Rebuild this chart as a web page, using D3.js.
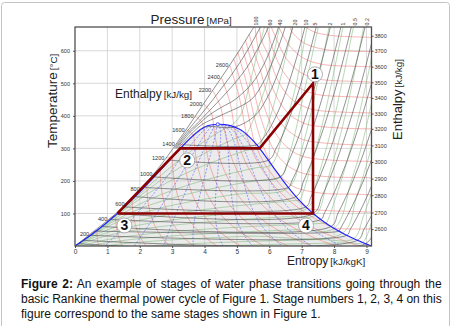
<!DOCTYPE html>
<html>
<head>
<meta charset="utf-8">
<script src="https://cdn.jsdelivr.net/npm/d3@7"></script>
<style>
  body { margin: 0; background: #fff; }
  svg text { font-family: "Liberation Sans", Arial, sans-serif; }
</style>
</head>
<body>
<svg id="ts" width="453" height="326"></svg>
<script>
// ---- saturation table (T in C, s in kJ/kgK, h in kJ/kg, v in m3/kg)
const satT  = [0.01, 5, 10, 15, 20, 30, 40, 50, 60, 70, 80, 90, 100, 120, 140, 160, 180, 200, 220, 240, 260, 280, 300, 320, 340, 350, 360, 370, 373.95];
const satSf = [0, 0.0763, 0.151, 0.2245, 0.2965, 0.4368, 0.5724, 0.7038, 0.8312, 0.9551, 1.0754, 1.1929, 1.3069, 1.5279, 1.7392, 1.9426, 2.1392, 2.3305, 2.5177, 2.702, 2.8849, 3.0685, 3.2552, 3.448, 3.6594, 3.78, 3.9147, 4.1106, 4.407];
const satSg = [9.1556, 9.0249, 8.8999, 8.7803, 8.6661, 8.452, 8.2557, 8.0748, 7.9082, 7.754, 7.6111, 7.4781, 7.3549, 7.1291, 6.9294, 6.7502, 6.5857, 6.4302, 6.2861, 6.1375, 5.9956, 5.851, 5.7045, 5.5362, 5.3357, 5.2177, 5.0526, 4.8012, 4.407];
const satHf = [0, 21.0, 42.0, 63.0, 83.9, 125.7, 167.5, 209.3, 251.1, 293.1, 334.9, 377.0, 419.0, 503.7, 589.1, 675.5, 763.1, 852.3, 943.6, 1037.5, 1135.0, 1236.9, 1344.8, 1461.3, 1594.5, 1670.9, 1761.5, 1890.7, 2084.3];
const satHg = [2500.9, 2510.1, 2519.2, 2528.3, 2537.4, 2555.6, 2573.5, 2591.3, 2608.8, 2626.1, 2643.0, 2659.6, 2675.6, 2706.0, 2733.5, 2757.0, 2777.2, 2791.0, 2799.7, 2802.2, 2797.5, 2779.9, 2749.6, 2700.6, 2622.0, 2563.6, 2481.5, 2332.0, 2084.3];
const satVf = [0.001, 0.001, 0.001, 0.001001, 0.001002, 0.001004, 0.001008, 0.001012, 0.001017, 0.001023, 0.001029, 0.001036, 0.001043, 0.00106, 0.00108, 0.001102, 0.001127, 0.001157, 0.00119, 0.001229, 0.001276, 0.001332, 0.001404, 0.001499, 0.001638, 0.00174, 0.001895, 0.002217, 0.003106];
const satVg = [206.0, 147.03, 106.3, 77.885, 57.76, 32.879, 19.52, 12.026, 7.667, 5.0396, 3.405, 2.3593, 1.672, 0.8915, 0.5085, 0.3068, 0.1939, 0.1272, 0.08609, 0.05971, 0.04219, 0.03016, 0.02167, 0.01549, 0.0108, 0.008806, 0.006945, 0.004947, 0.003106];

// ---- isobars [s, T]  (MPa)
const isobarP = [100, 80, 60, 40, 30, 20, 10, 5, 2, 1, 0.5, 0.2, 0.1, 0.05, 0.02, 0.01, 0.005, 0.002, 0.001];
const isobarPts = [
  [[0, 0.01], [0.64, 50], [1.27, 100], [1.82, 150], [2.26, 200], [2.66, 250], [3.03, 300], [3.38, 350], [3.72, 400], [4.06, 450], [4.40, 500], [4.74, 550], [5.07, 600], [5.38, 650], [5.70, 700]],
  [[3.07, 300], [3.44, 350], [3.86, 400], [4.26, 450], [4.64, 500], [5.00, 550], [5.32, 600], [5.60, 650], [5.88, 700]],
  [[3.11, 300], [3.50, 350], [3.76, 375], [4.00, 400], [4.24, 425], [4.48, 450], [4.93, 500], [5.32, 550], [5.61, 600], [5.87, 650], [6.08, 700]],
  [[3.14, 300], [3.56, 350], [3.83, 375], [4.11, 400], [4.50, 425], [4.94, 450], [5.47, 500], [5.79, 550], [6.02, 600], [6.21, 650], [6.37, 700]],
  [[3.18, 300], [3.65, 350], [3.95, 375], [4.475, 400], [5.442, 450], [5.796, 500], [6.033, 550], [6.237, 600], [6.42, 650], [6.574, 700]],
  [[3.22, 300], [3.75, 350], [4.01, 365.7], [4.93, 365.7], [5.555, 400], [5.903, 450], [6.143, 500], [6.337, 550], [6.507, 600], [6.66, 650], [6.80, 700]],
  [[3.36, 311], [5.616, 311], [5.76, 325], [5.946, 350], [6.214, 400], [6.422, 450], [6.60, 500], [6.905, 600], [7.17, 700]],
  [[2.921, 263.9], [5.974, 263.9], [6.211, 300], [6.452, 350], [6.648, 400], [6.821, 450], [6.978, 500], [7.261, 600], [7.514, 700]],
  [[2.447, 212.4], [6.339, 212.4], [6.548, 250], [6.768, 300], [6.958, 350], [7.129, 400], [7.434, 500], [7.704, 600], [7.951, 700]],
  [[2.138, 179.9], [6.585, 179.9], [6.696, 200], [6.927, 250], [7.125, 300], [7.303, 350], [7.467, 400], [7.764, 500], [8.031, 600], [8.276, 700]],
  [[1.86, 151.8], [6.821, 151.8], [7.061, 200], [7.273, 250], [7.461, 300], [7.635, 350], [7.796, 400], [8.089, 500], [8.354, 600], [8.598, 700]],
  [[1.53, 120.2], [7.127, 120.2], [7.281, 150], [7.508, 200], [7.71, 250], [7.894, 300], [8.224, 400], [8.515, 500], [8.779, 600], [9.022, 700]],
  [[1.303, 99.6], [7.359, 99.6], [7.615, 150], [7.836, 200], [8.035, 250], [8.217, 300], [8.545, 400], [8.836, 500], [9.1, 600], [9.342, 700]],
  [[1.091, 81.3], [7.593, 81.3], [7.695, 100], [7.941, 150], [8.159, 200], [8.357, 250], [8.539, 300], [8.866, 400], [9.157, 500]],
  [[0.832, 60.1], [7.907, 60.1], [8.118, 100], [8.364, 150], [8.582, 200], [8.78, 250], [8.962, 300], [9.29, 400]],
  [[0.649, 45.8], [8.149, 45.8], [8.175, 50], [8.448, 100], [8.688, 150], [8.904, 200], [9.1, 250], [9.281, 300]],
  [[0.476, 32.9], [8.394, 32.9], [8.495, 50], [8.768, 100], [9.008, 150], [9.224, 200]],
  [[0.261, 17.5], [8.723, 17.5], [8.918, 50], [9.19, 100]],
  [[0.106, 7.0], [8.975, 7.0], [9.238, 50]]
];

// ---- isenthalps (kJ/kg): parts outside the dome, [s, T]
const hLines = [200, 400, 600, 800, 1000, 1200, 1400, 1600, 1800, 2000, 2200, 2400, 2600, 2700, 2800, 2900, 3000, 3100, 3200, 3300, 3400, 3500, 3600, 3700, 3800];
const hLabels = [200, 400, 600, 800, 1000, 1200, 1400, 1600, 1800, 2000, 2200, 2400, 2600];
const hPre = [
  [[0.486, 38], [0.673, 47.8]],
  [[1.043, 82], [1.254, 95.5]],
  [[1.578, 128], [1.765, 142.5]],
  [[2.049, 176], [2.218, 188.3]],
  [[2.436, 222], [2.628, 232]],
  [[2.808, 270], [3.002, 272.8]],
  [[3.128, 314], [3.347, 309.5]],
  [[3.434, 358], [3.668, 340.7]],
  [[3.706, 398], [3.913, 382], [3.973, 363]],
  [[3.972, 437], [4.215, 406.5], [4.278, 372.2]],
  [[4.25, 478], [4.504, 425], [4.591, 372.1]],
  [[4.522, 518], [4.786, 441], [4.915, 365.5]],
  [[4.78, 556], [5.063, 461], [5.22, 382], [5.291, 343.1]],
  [[4.905, 575], [5.198, 474], [5.38, 390], [5.536, 320]],
  [], [], [], [], [], [], [], [], [], [], []
];
const hPost = [
  [], [], [], [], [], [], [], [], [], [], [], [],
  [[7.995, 55], [9.156, 52.5]],
  [[7.174, 116], [7.74, 109], [8.48, 106.5], [9.156, 104]],
  [[5.03, 594], [5.334, 487], [5.53, 398], [5.75, 323], [5.99, 266], [6.18, 234], [6.64, 189], [6.94, 175], [7.667, 161.8], [8.73, 159], [9.156, 157]],
  [[5.15, 613], [5.336, 549], [5.47, 500], [5.67, 417], [5.907, 344.7], [6.16, 292], [6.541, 249], [6.84, 231], [7.15, 221], [7.885, 212.4], [8.944, 210.4], [9.156, 209]],
  [[5.27, 632], [5.44, 569], [5.6, 520], [5.81, 437], [6.063, 372], [6.335, 326], [6.724, 290], [7.03, 276], [7.344, 269], [8.085, 262.8], [9.156, 260]],
  [[5.38, 651], [5.55, 588], [5.724, 540], [5.954, 460.7], [6.218, 401], [6.499, 362], [6.895, 333.4], [7.206, 322.7], [8.258, 312.5], [9.156, 310]],
  [[5.56, 673], [5.655, 610], [5.845, 563], [6.088, 488.5], [6.361, 435.4], [6.653, 401.4], [7.054, 378], [7.367, 369.7], [8.419, 361.5], [9.156, 360]],
  [[5.7, 673], [5.755, 634], [5.963, 588], [6.217, 519], [6.499, 471.7], [6.796, 443], [7.2, 423.5], [7.516, 416.5], [8.575, 410.2], [9.156, 409]],
  [[5.92, 673], [6.076, 615], [6.341, 551], [6.63, 510], [6.932, 485.3], [7.339, 469], [7.655, 463], [8.715, 457.8], [9.156, 456]],
  [[6.06, 673], [6.185, 644], [6.461, 586], [6.752, 550], [7.058, 528], [7.472, 514], [7.79, 509.5], [8.85, 505], [9.156, 503.5]],
  [[6.29, 673], [6.573, 622.6], [6.874, 590], [7.179, 571], [7.594, 559], [7.911, 555], [8.971, 551.3], [9.156, 550.5]],
  [[6.65, 673], [6.69, 659.6], [6.984, 630], [7.296, 614], [7.714, 604], [8.033, 600.6], [9.093, 597.4], [9.156, 597]],
  [[7.1, 673], [7.407, 657], [7.83, 648], [8.142, 645], [9.156, 641]]
];

// ---- isochores (m3/kg): superheated part from the vapour line up, [s, T]
const vLines = [0.005, 0.01, 0.02, 0.05, 0.1, 0.2, 0.5, 1, 2, 5, 10, 20, 50, 100];
const vSuper = [
  [[4.809, 369.7], [5.1, 400], [5.4, 500], [5.65, 600], [5.93, 700]],
  [[5.286, 343.5], [5.555, 400], [5.92, 500], [6.16, 600], [6.37, 700]],
  [[5.664, 304.8], [6.04, 400], [6.31, 500], [6.55, 600], [6.78, 700]],
  [[6.065, 250.2], [6.435, 350], [6.836, 500], [7.03, 600], [7.22, 700]],
  [[6.341, 212.3], [6.673, 300], [7.024, 450], [7.57, 700]],
  [[6.597, 178.7], [7.01, 300], [7.379, 450], [7.9, 700]],
  [[6.923, 140.7], [7.298, 250], [7.7, 400], [8.33, 700]],
  [[7.17, 116.4], [7.468, 200], [8.02, 400], [8.65, 700]],
  [[7.419, 95], [7.795, 200], [8.342, 400], [8.97, 700]],
  [[7.752, 70.5], [8.055, 150], [8.512, 300], [8.992, 500], [9.2, 600]],
  [[8.007, 54.3], [8.533, 200], [8.833, 300], [9.156, 439]],
  [[8.265, 39.5], [8.694, 150], [9.156, 303]],
  [[8.612, 22.7], [8.9, 90], [9.156, 163]],
  [[8.877, 11], [9.156, 73]]
];

const qualities = [0.1, 0.2, 0.3, 0.4, 0.5, 0.6, 0.7, 0.8, 0.9];

// ---- Rankine cycle
const cycleS = [1.31, 3.25, 5.7, 7.35, 7.35, 1.31];
const cycleT = [100, 300, 300, 500, 100, 100];
const stageNames = ["3", "2", "1", "4"];
const stageIndex = [0, 1, 3, 4];

// ---- axes
const sTicks = [0, 1, 2, 3, 4, 5, 6, 7, 8, 9];
const tTicks = [100, 200, 300, 400, 500, 600];
const pressureTicks = ["100", "60", "40", "20", "10", "5", "2", "1", "0.5", "0.2"];
const pressureTickS = [5.59, 6.02, 6.33, 6.79, 7.15, 7.43, 7.87, 8.28, 8.64, 9.03];
const rightTickH = [2600, 2700, 2800, 2900, 3000, 3100, 3200, 3300, 3400, 3500, 3600, 3700, 3800];
const rightTickT = [52, 103, 156, 207, 258, 309, 360, 407, 455, 503, 551, 600, 646];

const svg = d3.select("#ts");
const x = d3.scaleLinear().domain([0, 9.156]).range([75, 371.5]);
const y = d3.scaleLinear().domain([0, 673]).range([246, 27]);
const curve = d3.line().x(d => x(d[0])).y(d => y(d[1])).curve(d3.curveCatmullRom.alpha(0.5));
const straight = d3.line().x(d => x(d[0])).y(d => y(d[1]));

// outer frame of the figure
svg.append("rect").attr("x", 1.5).attr("y", 2.5).attr("width", 448).attr("height", 340)
  .attr("rx", 3).attr("fill", "none").attr("stroke", "#c4c4c4").attr("stroke-width", 1);

svg.append("clipPath").attr("id", "plot").append("rect")
  .attr("x", x(0)).attr("y", y(673)).attr("width", x(9.156) - x(0)).attr("height", y(0) - y(673));
const g = svg.append("g").attr("clip-path", "url(#plot)");

// wet region points for a line of constant property, quality from row i
function wetPoints(frac, tHi, tLo) {
  const pts = [];
  for (let i = satT.length - 1; i >= 0; i--) {
    if (satT[i] >= tHi || satT[i] <= tLo) continue;
    const q = frac(i);
    if (q <= 0 || q >= 1) continue;
    pts.push([satSf[i] + q * (satSg[i] - satSf[i]), satT[i]]);
  }
  return pts;
}

// dome fill
const liquid = satT.map((t, i) => [satSf[i], t]);
const vapour = satT.map((t, i) => [satSg[i], t]).reverse();
g.append("path").attr("d", straight(liquid.concat(vapour)) + "Z").attr("fill", "#ebebeb");

// grid
g.selectAll(".gx").data(sTicks.slice(1)).join("line")
  .attr("x1", d => x(d)).attr("x2", d => x(d)).attr("y1", y(0)).attr("y2", y(673))
  .attr("stroke", "#cfcfcf").attr("stroke-width", 0.8);
g.selectAll(".gy").data(tTicks).join("line")
  .attr("x1", x(0)).attr("x2", x(9.156)).attr("y1", d => y(d)).attr("y2", d => y(d))
  .attr("stroke", "#cfcfcf").attr("stroke-width", 0.8);

// isochores (green)
vLines.forEach((v, k) => {
  const sup = vSuper[k].slice().reverse();
  const wet = wetPoints(i => (v - satVf[i]) / (satVg[i] - satVf[i]), vSuper[k][0][1], -1);
  g.append("path").attr("d", curve(sup.concat(wet)))
    .attr("fill", "none").attr("stroke", "#78b878").attr("stroke-width", 0.6).attr("stroke-opacity", 0.9);
});

// isenthalps (red)
hLines.forEach((h, k) => {
  const pre = hPre[k], post = hPost[k];
  let pts = pre.slice();
  if (pre.length) {
    const tHi = pre[pre.length - 1][1];
    const tLo = post.length ? post[0][1] : -1;
    pts = pts.concat(wetPoints(i => (h - satHf[i]) / (satHg[i] - satHf[i]), tHi, tLo));
  }
  pts = pts.concat(post);
  g.append("path").attr("d", curve(pts))
    .attr("fill", "none").attr("stroke", "#f07070").attr("stroke-width", 0.6).attr("stroke-opacity", 0.85);
});

// dryness fraction lines (blue dashed)
qualities.forEach(q => {
  const pts = satT.map((t, i) => [satSf[i] + q * (satSg[i] - satSf[i]), t]).reverse();
  g.append("path").attr("d", curve(pts))
    .attr("fill", "none").attr("stroke", "#5a5aff").attr("stroke-width", 0.6)
    .attr("stroke-dasharray", "2,1.5");
});

// isobars (dark grey)
isobarP.forEach((p, k) => {
  g.append("path").attr("d", curve(isobarPts[k]))
    .attr("fill", "none").attr("stroke", "#4a4a4a").attr("stroke-width", 0.6);
});

// saturation line
g.append("path").attr("d", curve(liquid.concat(vapour.slice(1))))
  .attr("fill", "none").attr("stroke", "#1f1fff").attr("stroke-width", 1.1);
g.append("circle").attr("cx", x(4.407)).attr("cy", y(373.95)).attr("r", 1.6)
  .attr("fill", "#fff").attr("stroke", "#1f1fff").attr("stroke-width", 0.8);

// cycle
const cyc = cycleS.map((s, i) => [s, cycleT[i]]);
g.append("path").attr("d", straight(cyc))
  .attr("fill", "none").attr("stroke", "#8b0000").attr("stroke-width", 2.6).attr("stroke-linejoin", "miter");

// frame
svg.append("rect").attr("x", x(0)).attr("y", y(673)).attr("width", x(9.156) - x(0)).attr("height", y(0) - y(673))
  .attr("fill", "none").attr("stroke", "#505050").attr("stroke-width", 1.3);

// enthalpy labels along the left boundary
svg.selectAll(".hl").data(hLabels).join("text")
  .attr("x", (d, i) => x(hPre[i][0][0]) - 1.5)
  .attr("y", (d, i) => y(hPre[i][0][1]) + 2)
  .attr("text-anchor", "end").attr("font-size", 5.6).attr("fill", "#333")
  .text(d => d);

// axes
const fmtAxis = sel => {
  sel.select(".domain").remove();
  sel.selectAll("line").attr("stroke", "#505050");
  sel.selectAll("text").attr("fill", "#333").attr("font-family", "Liberation Sans, Arial, sans-serif");
};
svg.append("g").attr("transform", `translate(0,${y(0)})`)
  .call(d3.axisBottom(x).tickValues(sTicks).tickSize(2).tickPadding(1.5))
  .call(fmtAxis).selectAll("text").attr("font-size", 6.5);
svg.append("g").attr("transform", `translate(${x(0)},0)`)
  .call(d3.axisLeft(y).tickValues(tTicks).tickSize(2).tickPadding(3))
  .call(fmtAxis).selectAll("text").attr("font-size", 5.5);
svg.append("g").attr("transform", `translate(${x(9.156)},0)`)
  .call(d3.axisRight(y).tickValues(rightTickT).tickSize(2).tickPadding(1)
    .tickFormat((d, i) => rightTickH[i]))
  .call(fmtAxis).selectAll("text").attr("font-size", 5.5);

// pressure labels on top
svg.selectAll(".pl").data(pressureTicks).join("text")
  .attr("transform", (d, i) => `translate(${x(pressureTickS[i]) + 1.8},${y(673) - 1.5}) rotate(-90)`)
  .attr("font-size", 5.3).attr("fill", "#333").text(d => d);

// titles
const title = (tx, ty, rot, big, small, bigSize, smallSize) => {
  const t = svg.append("text").attr("transform", `translate(${tx},${ty}) rotate(${rot})`).attr("fill", "#222");
  t.append("tspan").attr("font-size", bigSize).text(big);
  t.append("tspan").attr("font-size", smallSize).attr("dx", 2).text(small);
  return t;
};
title(150.5, 23.5, 0, "Pressure", "[MPa]", 13.5, 9.6);
title(56.5, 148, -90, "Temperature", "[°C]", 13.5, 9.8);
title(115, 97.5, 0, "Enthalpy", "[kJ/kg]", 12, 9.8);
title(401.5, 140, -90, "Enthalpy", "[kJ/kg]", 13, 9.8);
title(287, 265, 0, "Entropy", "[kJ/kgK]", 12, 9.8);

// stage markers
const labelOffset = [[7, 12], [7, 12], [2, -9], [-7, 12]];
stageNames.forEach((name, k) => {
  const i = stageIndex[k];
  const cx = x(cycleS[i]) + labelOffset[k][0], cy = y(cycleT[i]) + labelOffset[k][1];
  svg.append("circle").attr("cx", cx).attr("cy", cy).attr("r", 7.5)
    .attr("fill", "#fff").attr("stroke", "#999").attr("stroke-width", 0.8);
  svg.append("text").attr("x", cx).attr("y", cy + 5).attr("text-anchor", "middle")
    .attr("font-size", 14).attr("font-weight", "bold").attr("fill", "#111").text(name);
});

// caption (justified first two lines)
const caption = [
  ["Figure 2:", " An example of stages of water phase transitions going through the"],
  ["", "basic Rankine thermal power cycle of Figure 1. Stage numbers 1, 2, 3, 4 on this"],
  ["", "figure correspond to the same stages shown in Figure 1."]
];
const captionSpacing = [1.25, -0.15, 0];
caption.forEach((c, i) => {
  const t = svg.append("text").attr("x", 21).attr("y", 287.5 + i * 15).attr("font-size", 12)
    .attr("fill", "#111").attr("word-spacing", captionSpacing[i]);
  if (c[0]) t.append("tspan").attr("font-weight", "bold").text(c[0]);
  t.append("tspan").text(c[1]);
});
</script>
</body>
</html>
